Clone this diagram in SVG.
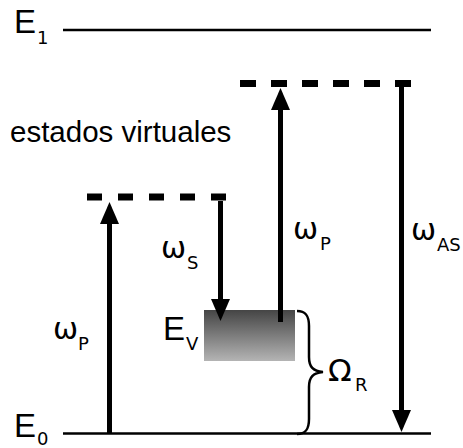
<svg xmlns="http://www.w3.org/2000/svg" width="463" height="448" viewBox="0 0 463 448">
<defs>
<linearGradient id="grad" x1="0" y1="0" x2="0" y2="1">
<stop offset="0" stop-color="#454545"/>
<stop offset="1" stop-color="#b4b4b4"/>
</linearGradient>
<marker id="head" markerUnits="userSpaceOnUse" markerWidth="24" markerHeight="20" refX="10" refY="9.5" orient="auto" viewBox="0 0 24 20">
<path d="M0,0 L22,9.5 L0,19 Z" fill="#000"/>
</marker>
<style>
text{font-family:"Liberation Sans",Arial,sans-serif;fill:#000}
.lvl{stroke:#000;stroke-width:2.5;fill:none}
.dash{stroke:#000;stroke-width:7;fill:none}
.arr{stroke:#000;stroke-width:5;fill:none;marker-end:url(#head)}
.big{font-size:33px}
.om{font-family:"DejaVu Sans",sans-serif;font-size:30px}
.Om{font-family:"DejaVu Sans",sans-serif;font-size:31px}
.sub{font-family:"DejaVu Sans",sans-serif;font-size:18px}
</style>
</defs>
<g id="E1">
<line class="lvl" x1="63" y1="30" x2="431" y2="30"/>
<text class="big" x="14" y="33">E</text><text class="sub" x="37" y="44">1</text>
</g>
<g id="E0">
<line class="lvl" x1="63" y1="433.5" x2="431" y2="433.5"/>
<text class="big" x="14" y="437">E</text><text class="sub" x="37" y="445">0</text>
</g>
<g id="virtual-upper">
<line class="dash" x1="240" y1="83.5" x2="411" y2="83.5" stroke-dasharray="16 15"/>
</g>
<g id="virtual-lower">
<line class="dash" x1="87" y1="197" x2="226" y2="197" stroke-dasharray="15 16"/>
</g>
<g id="label-virtual">
<text x="10" y="142" style="font-size:29.5px">estados virtuales</text>
</g>
<g id="EV">
<rect x="204" y="310" width="91" height="51" fill="url(#grad)"/>
<text class="big" x="163" y="340">E</text><text class="sub" x="186" y="350">V</text>
</g>
<g id="connectors">
<line class="arr" x1="109.5" y1="433" x2="109.5" y2="214"/>
<line class="arr" x1="220.5" y1="201" x2="220.5" y2="309"/>
<line class="arr" x1="280.5" y1="322" x2="280.5" y2="100"/>
<line class="arr" x1="401.5" y1="87" x2="401.5" y2="420"/>
<path d="M297,311 C306,311 309,316 309,326 L309,357 C309,367 313,371 323,372 C313,373 309,377 309,387 L309,419 C309,429 306,434 297,434" fill="none" stroke="#000" stroke-width="2.5"/>
</g>
<g id="labels">
<text class="om" x="53" y="339">ω</text><text class="sub" x="78" y="350">P</text>
<text class="om" x="161" y="258">ω</text><text class="sub" x="187" y="269">S</text>
<text class="om" x="293" y="239">ω</text><text class="sub" x="320" y="250">P</text>
<text class="om" x="411" y="240">ω</text><text class="sub" x="437" y="251">AS</text>
<text class="Om" x="328" y="381">Ω</text><text class="sub" x="355" y="391">R</text>
</g>
</svg>
